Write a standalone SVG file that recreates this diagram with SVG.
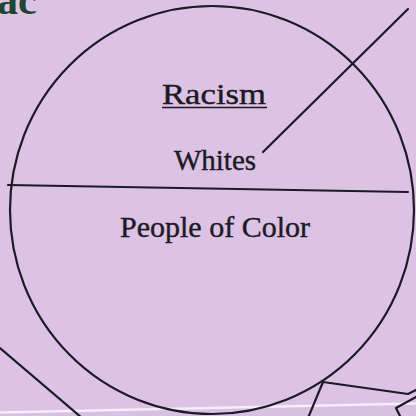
<svg xmlns="http://www.w3.org/2000/svg" width="416" height="416" viewBox="0 0 416 416">
<style>
.ln{fill:none;stroke:#1c1a24;stroke-width:2.2;stroke-linecap:round;stroke-linejoin:round}
.t{font-family:"Liberation Serif","Times New Roman",serif;fill:#1c1a22;stroke:#1c1a22;stroke-width:0.4;text-anchor:middle}
</style>
<rect x="0" y="0" width="416" height="416" fill="#dcc2e5"/>
<polygon points="0,413 416,404 416,416 0,416" fill="#d8c0e2"/>
<line x1="0" y1="412.5" x2="416" y2="403.5" stroke="#f4eef6" stroke-width="2.5"/>
<text x="-3" y="14" font-family="Liberation Serif,serif" font-weight="bold" font-size="42" fill="#1f4630">ac</text>
<g id="circle">
<ellipse class="ln" cx="212" cy="210" rx="202" ry="204"/>
<line class="ln" x1="8" y1="185" x2="408" y2="192"/>
</g>
<g id="racism">
<text class="t" x="214" y="104" font-size="30" textLength="104" lengthAdjust="spacingAndGlyphs">Racism</text>
<line x1="162" y1="107.5" x2="267" y2="107.5" stroke="#1c1a22" stroke-width="1.5"/>
</g>
<g id="whites"><text class="t" x="215" y="170" font-size="29">Whites</text></g>
<g id="poc"><text class="t" x="215" y="237" font-size="30">People of Color</text></g>
<g id="connectors">
<line class="ln" x1="263" y1="152" x2="408" y2="9"/>
<line class="ln" x1="0" y1="348" x2="82" y2="418"/>
<polyline class="ln" points="308,418 323,382 408,394 418,389"/>
<polyline class="ln" points="418,396 396,408 401,418"/>
</g>
</svg>
